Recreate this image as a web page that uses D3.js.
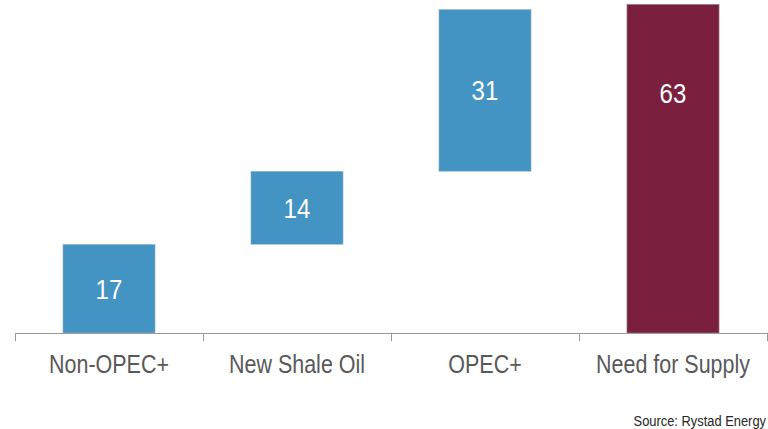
<!DOCTYPE html>
<html>
<head>
<meta charset="utf-8">
<script src="https://cdn.jsdelivr.net/npm/d3@7"></script>
<style>
  html, body { margin: 0; padding: 0; background: #fff; }
  svg { display: block; }
  text { font-family: "Liberation Sans Narrow", "Arial Narrow", "Liberation Sans", Arial, sans-serif; }
</style>
</head>
<body>
<svg id="chart" width="768" height="429"></svg>
<script>
// Supply build-up (waterfall): three contributions and the resulting total
const categories = ["Non-OPEC+", "New Shale Oil", "OPEC+", "Need for Supply"];
const values = [17, 14, 31, 63];
const isTotal = [false, false, false, true];
const sourceText = "Source: Rystad Energy";

const svg = d3.select("#chart");
const narrow = 0.86; // horizontal squeeze to get a condensed face

// Cumulative start/end for each step; the total bar starts from zero
let running = 0;
const steps = categories.map((c, i) => {
  let start, end;
  if (isTotal[i]) { start = 0; end = values[i]; }
  else { start = running; end = running + values[i]; running = end; }
  return { cat: c, value: values[i], start, end, total: isTotal[i] };
});

const x = d3.scaleBand()
  .domain(categories)
  .range([15, 767])
  .paddingInner(0.51)
  .paddingOuter(0.255);

const y = d3.scaleLinear()
  .domain([0, 63])
  .range([333, 4.3]);

// Bars
svg.append("g").selectAll("rect")
  .data(steps)
  .join("rect")
  .attr("x", d => x(d.cat))
  .attr("width", x.bandwidth())
  .attr("y", d => y(d.end))
  .attr("height", d => y(d.start) - y(d.end))
  .attr("fill", d => d.total ? "#7B1F3E" : "#4393C3")
  .attr("stroke", d => d.total ? "#a08890" : "#9fbfd6")
  .attr("stroke-width", 0.6);

// Value labels inside bars; the tall total bar carries its label in its upper part
function labelValue(d) {
  return d.total ? d.end * 0.73 : (d.start + d.end) / 2;
}
svg.append("g").selectAll("text")
  .data(steps)
  .join("text")
  .attr("transform", d => `translate(${x(d.cat) + x.bandwidth() / 2},${y(labelValue(d))}) scale(${narrow},1)`)
  .attr("dy", "0.36em")
  .attr("text-anchor", "middle")
  .attr("fill", "#ffffff")
  .attr("font-size", 28)
  .text(d => d.value);

// Category axis with boundary ticks between bands
const axisG = svg.append("g");
axisG.append("line")
  .attr("x1", 15).attr("x2", 767)
  .attr("y1", 333.5).attr("y2", 333.5)
  .attr("stroke", "#9a9a9a").attr("stroke-width", 1);

const boundaries = categories.map(c => x(c) - x.step() * x.paddingOuter());
boundaries.push(767);
axisG.selectAll("line.tick")
  .data(boundaries)
  .join("line")
  .attr("class", "tick")
  .attr("x1", d => Math.round(d) + 0.5).attr("x2", d => Math.round(d) + 0.5)
  .attr("y1", 333).attr("y2", 341)
  .attr("stroke", "#9a9a9a").attr("stroke-width", 1);

axisG.selectAll("text")
  .data(categories)
  .join("text")
  .attr("transform", d => `translate(${x(d) + x.bandwidth() / 2},373) scale(${narrow},1)`)
  .attr("text-anchor", "middle")
  .attr("fill", "#595959")
  .attr("font-size", 25)
  .text(d => d);

// Source note
svg.append("text")
  .attr("transform", `translate(766,426) scale(${narrow},1)`)
  .attr("text-anchor", "end")
  .attr("fill", "#262626")
  .attr("font-size", 15)
  .text(sourceText);
</script>
</body>
</html>
